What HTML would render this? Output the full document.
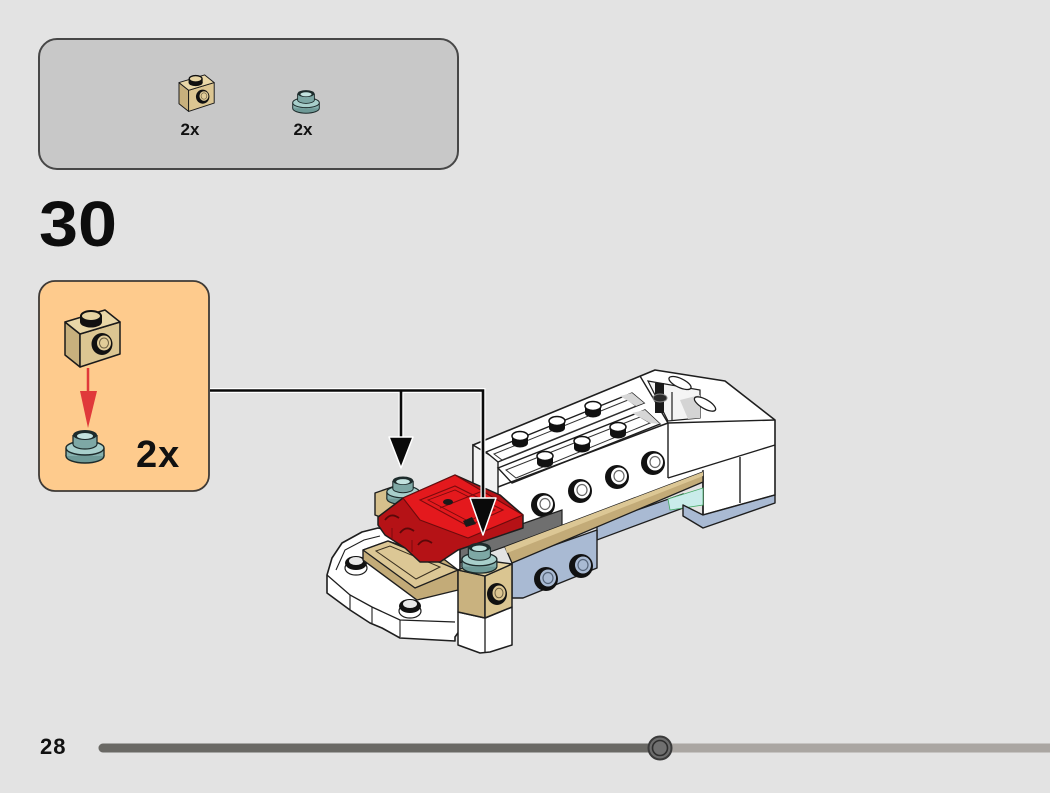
<!DOCTYPE html>
<html><head><meta charset="utf-8">
<style>
html,body{margin:0;padding:0;background:#e3e3e3;}
body{width:1050px;height:793px;overflow:hidden;position:relative;font-family:"Liberation Sans",sans-serif;}
svg{position:absolute;left:0;top:0;}
</style></head>
<body>
<svg width="1050" height="793" viewBox="0 0 1050 793" xmlns="http://www.w3.org/2000/svg">
<defs>
  <g id="tanbrick">
    <polygon points="0,15 15,27 15,60 0,48" fill="#c7b07d" stroke="#1a1a1a" stroke-width="1.5" stroke-linejoin="round"/>
    <polygon points="15,27 55,15 55,47 15,60" fill="#dcc692" stroke="#1a1a1a" stroke-width="1.5" stroke-linejoin="round"/>
    <polygon points="0,15 40,3 55,15 15,27" fill="#e9d7a7" stroke="#1a1a1a" stroke-width="1.5" stroke-linejoin="round"/>
    <ellipse cx="26" cy="15" rx="11" ry="5.5" fill="#111"/>
    <rect x="15" y="9" width="22" height="6" fill="#111"/>
    <ellipse cx="26" cy="9" rx="10" ry="5" fill="#e6d3a2" stroke="#111" stroke-width="2"/>
    <ellipse cx="37" cy="37" rx="10.5" ry="11" fill="#111"/>
    <ellipse cx="39" cy="36" rx="7" ry="7.5" fill="#e2cd99"/>
    <ellipse cx="39" cy="36" rx="4.5" ry="5" fill="none" stroke="#6a5d40" stroke-width="1"/>
  </g>
  <g id="tealplate">
    <ellipse cx="20" cy="29" rx="19" ry="7" fill="#6f9a97" stroke="#1c2a2a" stroke-width="1.4"/>
    <rect x="1" y="21" width="38" height="8" fill="#86b0ad"/>
    <line x1="1" y1="21" x2="1" y2="29" stroke="#1c2a2a" stroke-width="1.4"/>
    <line x1="39" y1="21" x2="39" y2="29" stroke="#1c2a2a" stroke-width="1.4"/>
    <ellipse cx="20" cy="21" rx="19" ry="7" fill="#a8cfcb" stroke="#1c2a2a" stroke-width="1.4"/>
    <ellipse cx="20" cy="17" rx="12" ry="5" fill="#7ea8a5" stroke="#1c2a2a" stroke-width="1.2"/>
    <rect x="8" y="8" width="24" height="9" fill="#7ea8a5"/>
    <line x1="8" y1="8" x2="8" y2="17" stroke="#1c2a2a" stroke-width="1.3"/>
    <line x1="32" y1="8" x2="32" y2="17" stroke="#1c2a2a" stroke-width="1.3"/>
    <ellipse cx="20" cy="8" rx="12" ry="5" fill="#1d2b2b"/>
    <ellipse cx="20" cy="9" rx="8" ry="3" fill="#c3e3df"/>
  </g>
  <g id="topstud">
    <ellipse cx="0" cy="7" rx="8" ry="4.5" fill="#111"/>
    <rect x="-8" y="0" width="16" height="7" fill="#111"/>
    <ellipse cx="0" cy="0" rx="8" ry="4.5" fill="#fff" stroke="#111" stroke-width="1.5"/>
  </g>
  <g id="sidestud">
    <circle cx="0" cy="0" r="12" fill="#111"/>
    <ellipse cx="2" cy="-1" rx="8" ry="8.5" fill="#fff"/>
    <ellipse cx="2" cy="-1" rx="5" ry="5.5" fill="none" stroke="#666" stroke-width="1.2"/>
  </g>
  <g id="bluestud">
    <circle cx="0" cy="0" r="12" fill="#111"/>
    <ellipse cx="2" cy="-1" rx="8" ry="8.5" fill="#a9bad3"/>
    <ellipse cx="2" cy="-1" rx="5" ry="5.5" fill="none" stroke="#56657a" stroke-width="1.2"/>
  </g>
</defs>

<!-- Parts list box -->
<rect x="39" y="39" width="419" height="130" rx="18" ry="18" fill="#c8c8c8" stroke="#474747" stroke-width="2"/>
<use href="#tanbrick" transform="translate(179,73) scale(0.64)"/>
<use href="#tealplate" transform="translate(292,88) scale(0.7)"/>
<text x="190" y="135" font-family="Liberation Sans, sans-serif" font-weight="bold" font-size="17" text-anchor="middle" fill="#111">2x</text>
<text x="303" y="135" font-family="Liberation Sans, sans-serif" font-weight="bold" font-size="17" text-anchor="middle" fill="#111">2x</text>

<!-- Step number -->
<text x="39" y="246" font-family="Liberation Sans, sans-serif" font-weight="bold" font-size="64" fill="#0d0d0d" textLength="78" lengthAdjust="spacingAndGlyphs">30</text>

<!-- Callout box -->
<rect x="39" y="281" width="170" height="210" rx="16" ry="16" fill="#fecb8d" stroke="#3e3a36" stroke-width="1.8"/>
<use href="#tanbrick" transform="translate(65,307)"/>
<line x1="88" y1="368" x2="88" y2="394" stroke="#e0393a" stroke-width="2.5"/>
<polygon points="80,391 97,391 88,428" fill="#e0393a"/>
<use href="#tealplate" transform="translate(65,427)"/>
<text x="136" y="467" font-family="Liberation Sans, sans-serif" font-weight="bold" font-size="38" fill="#111" letter-spacing="1">2x</text>

<!-- ========== MODEL ========== -->
<polygon points="473,445 655,370 725,381 775,420 775,495 703,515 703,476 600,512 500,548 473,527" fill="#ffffff" stroke="#1e1e1e" stroke-width="1.6" stroke-linejoin="round"/>
<polygon points="473,445 498,460 498,545 473,527" fill="#f2f2f2" stroke="#1e1e1e" stroke-width="1.4"/>
<polygon points="486,452 632,393 644,403 498,462" fill="#fff" stroke="#1e1e1e" stroke-width="1.4"/>
<polygon points="494,454 628,400 636,406 502,460" fill="#fff" stroke="#333" stroke-width="1"/>
<polygon points="620,396 632,393 644,403 636,406" fill="#d6d6d6"/>
<polygon points="498,468 645,410 660,424 512,483" fill="#fff" stroke="#1e1e1e" stroke-width="1.4"/>
<polygon points="506,470 640,417 650,423 516,478" fill="#fff" stroke="#333" stroke-width="1"/>
<polygon points="632,413 645,410 660,424 650,423" fill="#d6d6d6"/>
<polyline points="498,487 668,423" fill="none" stroke="#1e1e1e" stroke-width="1.5"/>
<line x1="668" y1="423" x2="668" y2="478" stroke="#1e1e1e" stroke-width="1.4"/>
<use href="#topstud" x="520" y="436"/>
<use href="#topstud" x="557" y="421"/>
<use href="#topstud" x="593" y="406"/>
<use href="#topstud" x="545" y="456"/>
<use href="#topstud" x="582" y="441"/>
<use href="#topstud" x="618" y="427"/>
<use href="#sidestud" x="543" y="505"/>
<use href="#sidestud" x="580" y="491"/>
<use href="#sidestud" x="617" y="477"/>
<use href="#sidestud" x="653" y="463"/>
<polyline points="640,376 668,423 775,420" fill="none" stroke="#1e1e1e" stroke-width="1.4"/>
<polygon points="648,381 700,390 700,418 668,421" fill="#f4f4f4" stroke="#1e1e1e" stroke-width="1.2"/>
<polygon points="680,400 700,395 700,418 688,419" fill="#d4d4d4"/>
<rect x="655" y="383" width="9" height="30" fill="#1a1a1a"/>
<ellipse cx="660" cy="398" rx="7" ry="4" fill="#2a2a2a" stroke="#888" stroke-width="1"/>
<line x1="672" y1="392" x2="672" y2="420" stroke="#1e1e1e" stroke-width="1.2"/>
<ellipse cx="680" cy="383" rx="12" ry="4.5" transform="rotate(25 680 383)" fill="#fff" stroke="#1e1e1e" stroke-width="1.3"/>
<ellipse cx="705" cy="404" rx="12" ry="4.5" transform="rotate(30 705 404)" fill="#fff" stroke="#1e1e1e" stroke-width="1.3"/>
<polyline points="668,478 775,445" fill="none" stroke="#1e1e1e" stroke-width="1.4"/>
<line x1="703" y1="470" x2="703" y2="515" stroke="#1e1e1e" stroke-width="1.4"/>
<line x1="740" y1="457" x2="740" y2="503" stroke="#1e1e1e" stroke-width="1.4"/>

<polygon points="597,524 683,494 683,508 597,540" fill="#a9bad3" stroke="#1e1e1e" stroke-width="1.3"/>
<polygon points="668,499 703,488 703,505 670,510" fill="#c9ecea" stroke="#4a6" stroke-width="0.8"/>
<polygon points="683,505 703,515 775,495 775,503 703,528 683,516" fill="#a9bad3" stroke="#1e1e1e" stroke-width="1.4" stroke-linejoin="round"/>

<polygon points="512,560 597,530 597,568 523,598 512,598" fill="#a9bad3" stroke="#1e1e1e" stroke-width="1.4" stroke-linejoin="round"/>
<use href="#bluestud" x="546" y="579"/>
<use href="#bluestud" x="581" y="566"/>

<polygon points="430,556 562,510 562,526 440,570" fill="#6f6f6f" stroke="#1e1e1e" stroke-width="1.2"/>

<polygon points="505,547 703,472 703,482 512,563" fill="#c3ab78" stroke="#1e1e1e" stroke-width="1.3" stroke-linejoin="round"/>
<polygon points="505,547 703,472 703,476 507,553" fill="#dcc795"/>

<polygon points="327,575 332,558 342,543 362,532 378,528 460,545 460,630 455,637 455,641 400,638 382,628 370,623 350,610 327,593" fill="#fff" stroke="#1e1e1e" stroke-width="1.6" stroke-linejoin="round"/>
<polyline points="327,575 350,595 372,607 400,620 455,622" fill="none" stroke="#1e1e1e" stroke-width="1.3"/>
<polyline points="336,570 345,550 364,540 380,536" fill="none" stroke="#1e1e1e" stroke-width="1.1"/>
<polyline points="350,595 350,610" fill="none" stroke="#1e1e1e" stroke-width="1.1"/>
<polyline points="372,607 372,623" fill="none" stroke="#1e1e1e" stroke-width="1.1"/>
<polyline points="400,620 400,637" fill="none" stroke="#1e1e1e" stroke-width="1.1"/>
<ellipse cx="356" cy="568" rx="11" ry="7" fill="#fff" stroke="#1e1e1e" stroke-width="1.2"/>
<ellipse cx="356" cy="563" rx="11" ry="7" fill="#111"/>
<ellipse cx="356" cy="561" rx="7" ry="4" fill="#e8e8e8"/>
<ellipse cx="410" cy="611" rx="11" ry="7" fill="#fff" stroke="#1e1e1e" stroke-width="1.2"/>
<ellipse cx="410" cy="606" rx="11" ry="7" fill="#111"/>
<ellipse cx="410" cy="604" rx="7" ry="4" fill="#e8e8e8"/>

<polygon points="458,612 485,618 512,607 512,645 490,652 480,653 458,645" fill="#fff" stroke="#1e1e1e" stroke-width="1.5" stroke-linejoin="round"/>
<line x1="485" y1="618" x2="485" y2="652" stroke="#1e1e1e" stroke-width="1.3"/>

<polygon points="363,550 388,541 445,560 458,570 458,590 417,600 363,560" fill="#c3ab78" stroke="#1e1e1e" stroke-width="1.4" stroke-linejoin="round"/>
<polygon points="363,550 388,541 458,570 415,588" fill="#dcc795" stroke="#1e1e1e" stroke-width="1.3" stroke-linejoin="round"/>
<polygon points="376,551 390,546 440,567 416,579" fill="none" stroke="#3a3020" stroke-width="1"/>

<polygon points="375,493 398,485 420,493 402,503 402,525 375,515" fill="#d6c08c" stroke="#1e1e1e" stroke-width="1.4" stroke-linejoin="round"/>
<line x1="402" y1="503" x2="402" y2="525" stroke="#1e1e1e" stroke-width="1.2"/>
<use href="#tealplate" transform="translate(386,474) scale(0.85)"/>

<polygon points="378,517 403,498 455,475 500,495 523,515 523,528 458,550 440,562 420,562 405,548 385,535 378,525" fill="#b51216" stroke="#1e1e1e" stroke-width="1.5" stroke-linejoin="round"/>
<polygon points="403,498 455,475 523,515 468,538 420,520" fill="#e4191d" stroke="#6e0b0c" stroke-width="1.1" stroke-linejoin="round"/>
<polygon points="420,500 455,486 503,510 468,526" fill="none" stroke="#7a0b0d" stroke-width="1.1"/>
<polygon points="428,500 455,490 495,510 468,521" fill="none" stroke="#7a0b0d" stroke-width="0.9"/>
<line x1="440" y1="508" x2="485" y2="490" stroke="#7a0b0d" stroke-width="1"/>
<ellipse cx="448" cy="502" rx="5" ry="3" fill="#1a1a1a"/>
<polygon points="463,521 472,517 476,524 466,527" fill="#1a1a1a"/>
<path d="M385,520 q6,-8 14,-2" fill="none" stroke="#5a0809" stroke-width="1.8"/>
<path d="M400,533 q6,-8 14,-2" fill="none" stroke="#5a0809" stroke-width="1.8"/>
<path d="M418,545 q6,-8 14,-2" fill="none" stroke="#5a0809" stroke-width="1.8"/>
<line x1="392" y1="528" x2="392" y2="540" stroke="#7a0b0d" stroke-width="1"/>
<line x1="412" y1="540" x2="412" y2="552" stroke="#7a0b0d" stroke-width="1"/>

<polygon points="458,570 485,576 485,618 458,612" fill="#c9b27f" stroke="#1e1e1e" stroke-width="1.5" stroke-linejoin="round"/>
<polygon points="485,576 512,564 512,607 485,618" fill="#dac591" stroke="#1e1e1e" stroke-width="1.5" stroke-linejoin="round"/>
<polygon points="458,570 482,560 512,564 485,576" fill="#e6d3a3" stroke="#1e1e1e" stroke-width="1.4" stroke-linejoin="round"/>
<ellipse cx="497" cy="594" rx="10" ry="11" fill="#111"/>
<ellipse cx="499" cy="593" rx="6.5" ry="7.5" fill="#dcc692"/>
<ellipse cx="499" cy="593" rx="4" ry="4.8" fill="none" stroke="#6a5d40" stroke-width="1"/>
<use href="#tealplate" transform="translate(461,540) scale(0.92)"/>

<polyline points="210,390.5 483,390.5 483,500" fill="none" stroke="#ffffff" stroke-width="5"/>
<line x1="401" y1="390" x2="401" y2="440" stroke="#ffffff" stroke-width="5"/>
<polyline points="210,390.5 483,390.5 483,500" fill="none" stroke="#0a0a0a" stroke-width="2.6"/>
<line x1="401" y1="390" x2="401" y2="440" stroke="#0a0a0a" stroke-width="2.6"/>
<polygon points="389,437 413,437 401,468" fill="#0a0a0a" stroke="#ffffff" stroke-width="1.5" stroke-linejoin="round"/>
<polygon points="470,498 496,498 483,535" fill="#0a0a0a" stroke="#ffffff" stroke-width="1.5" stroke-linejoin="round"/>

<text x="40" y="754" font-family="Liberation Sans, sans-serif" font-weight="bold" font-size="22" fill="#111" letter-spacing="1">28</text>
<line x1="103" y1="748" x2="1055" y2="748" stroke="#aaa6a2" stroke-width="9" stroke-linecap="round"/>
<line x1="103" y1="748" x2="660" y2="748" stroke="#6a6965" stroke-width="9" stroke-linecap="round"/>
<circle cx="660" cy="748" r="11.5" fill="#6c6c6c" stroke="#3a3a3a" stroke-width="2"/>
<circle cx="660" cy="748" r="7.5" fill="#707070" stroke="#2e2e2e" stroke-width="1.6"/>
</svg>
</body></html>
